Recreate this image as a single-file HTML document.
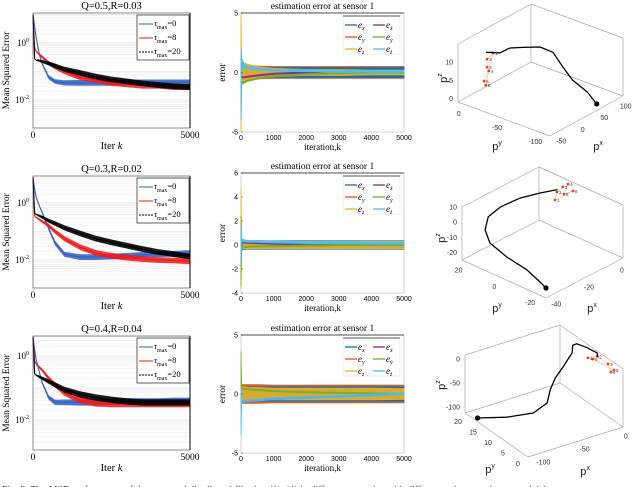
<!DOCTYPE html>
<html><head><meta charset="utf-8"><style>
html,body{margin:0;padding:0;background:#fff;}
svg{display:block;}
.serif{font-family:"Liberation Serif",serif;}
.sans{font-family:"Liberation Sans",sans-serif;}
</style></head><body>
<svg id="fig" width="640" height="487" viewBox="0 0 640 487" xmlns="http://www.w3.org/2000/svg">
<text x="2" y="493" class="serif" font-size="10" fill="#333">Fig. 3: The MSE performance of the proposed distributed filtering (1)–(4) in different scenarios with different noise covariances and delays</text>
</svg>
<script>
// ---------- MSE data (log10 of MSE) ----------
const kM=[0,50,100,200,300,500,700,1000,1500,2000,2500,3000,3500,4000,4500,5000];
const mseNoise=[0,0,0.02,0.04,0.05,0.07,0.08,0.09,0.1,0.1,0.1,0.1,0.1,0.1,0.1,0.1];
const r1Blue=[1.0,0.6,0.2,-0.4,-0.75,-1.2,-1.35,-1.4,-1.4,-1.4,-1.4,-1.38,-1.38,-1.38,-1.38,-1.38];
const r1Red=[1.0,-0.15,-0.3,-0.4,-0.5,-0.7,-0.85,-1.0,-1.2,-1.3,-1.4,-1.45,-1.5,-1.5,-1.55,-1.55];
const r1Black=[1.0,-0.55,-0.6,-0.62,-0.65,-0.72,-0.8,-0.92,-1.05,-1.18,-1.28,-1.35,-1.42,-1.48,-1.52,-1.55];
const r2Blue=[0.9,0.5,0.2,-0.1,-0.35,-0.9,-1.4,-1.8,-1.9,-1.9,-1.88,-1.85,-1.82,-1.8,-1.78,-1.75];
const r2Red=[0.9,-0.45,-0.5,-0.58,-0.65,-0.8,-1.0,-1.25,-1.55,-1.75,-1.85,-1.92,-1.97,-2.0,-2.02,-2.05];
const r2Black=[0.9,-0.35,-0.4,-0.45,-0.5,-0.62,-0.72,-0.87,-1.07,-1.25,-1.38,-1.5,-1.62,-1.72,-1.8,-1.88];
const r3Blue=[0.6,0.2,-0.1,-0.5,-0.85,-1.3,-1.45,-1.45,-1.45,-1.45,-1.43,-1.42,-1.42,-1.42,-1.4,-1.4];
const r3Red=[0.6,-0.15,-0.25,-0.35,-0.45,-0.7,-0.9,-1.15,-1.38,-1.48,-1.5,-1.5,-1.5,-1.5,-1.5,-1.5];
const r3Black=[0.6,-0.55,-0.6,-0.65,-0.7,-0.8,-0.9,-1.05,-1.2,-1.3,-1.37,-1.42,-1.45,-1.45,-1.45,-1.45];
const mseTitles=["Q=0.5,R=0.03","Q=0.3,R=0.02","Q=0.4,R=0.04"];
const legendDelays=["0","8","20"];
const mseXTicks=[0,5000];
const mseYTicks=[0,-2];

// ---------- estimation error data ----------
const kE=[0,20,100,200,500,1000,2000,3000,4000,5000];
const e1xC=[0,0.3,0.2,0.1,0.05,0,0,0,0,0], e1xS=[1,0.5,0.45,0.4,0.4,0.4,0.4,0.4,0.4,0.4];
const e1yC=[0,0,0,0,0,0,0,0,0,0], e1yS=[1,0.7,0.6,0.6,0.55,0.5,0.5,0.5,0.5,0.5];
const e1zC=[0,0,0,0,0,0,0,0,0,0], e1zS=[5,1.0,0.8,0.7,0.5,0.35,0.25,0.25,0.2,0.2];
const e1xdC=[0,-0.4,-0.4,-0.35,-0.25,-0.1,0,0,0,0], e1xdS=[0.05,0.05,0.05,0.05,0.05,0.05,0.05,0.05,0.05,0.05];
const e1ydC=[-2.5,-0.9,-0.8,-0.7,-0.5,-0.3,-0.15,-0.05,0,0], e1ydS=[1.5,0.1,0.08,0.06,0.06,0.05,0.05,0.05,0.05,0.05];
const e1zdC=[-1,0.8,0.5,0.4,0.3,0.2,0.15,0.1,0.1,0.1], e1zdS=[3,0.4,0.2,0.1,0.1,0.08,0.08,0.08,0.08,0.08];
const e2xC=[0,0,0,0,0,0,0,0,0,0], e2xS=[2,0.4,0.35,0.35,0.35,0.35,0.35,0.35,0.35,0.35];
const e2yC=[0,0,0,0,0,0,0,0,0,0], e2yS=[1,0.35,0.3,0.3,0.3,0.3,0.3,0.3,0.3,0.3];
const e2zC=[0.5,0.1,0.05,0,0,0,0,0,0,0], e2zS=[4.2,0.4,0.35,0.3,0.3,0.3,0.3,0.3,0.3,0.3];
const e2xdC=[0,0.2,0.2,0.18,0.15,0.1,0.05,0,0,0], e2xdS=[0.04,0.04,0.04,0.04,0.04,0.04,0.04,0.04,0.04,0.04];
const e2ydC=[-0.5,-0.2,-0.2,-0.15,-0.1,-0.1,-0.05,0,0,0], e2ydS=[2.9,0.05,0.05,0.05,0.05,0.05,0.05,0.05,0.05,0.05];
const e2zdC=[0,0.4,0.35,0.3,0.3,0.25,0.2,0.2,0.15,0.15], e2zdS=[1.5,0.1,0.08,0.08,0.08,0.08,0.08,0.08,0.08,0.08];
const e3xC=[0,0,0,0,0,0,0,0,0,0], e3xS=[1,0.6,0.6,0.6,0.6,0.6,0.6,0.6,0.6,0.6];
const e3yC=[0,0,0,0,0,0,0,0,0,0], e3yS=[1,0.8,0.8,0.8,0.8,0.75,0.75,0.75,0.75,0.75];
const e3zC=[0,0,0,0,0,0,0,0,0,0], e3zS=[1,0.6,0.6,0.55,0.55,0.5,0.5,0.5,0.5,0.45];
const e3xdC=[0,-0.6,-0.6,-0.55,-0.5,-0.45,-0.3,-0.2,-0.1,0], e3xdS=[0.04,0.04,0.04,0.04,0.04,0.04,0.04,0.04,0.04,0.04];
const e3ydC=[2,0.5,0.45,0.4,0.35,0.25,0.15,0.1,0.05,0], e3ydS=[1.6,0.06,0.05,0.05,0.05,0.05,0.05,0.05,0.05,0.05];
const e3zdC=[-1.5,-0.6,-0.6,-0.55,-0.5,-0.4,-0.3,-0.2,-0.1,0], e3zdS=[2,0.1,0.08,0.08,0.08,0.08,0.08,0.08,0.08,0.08];
const errXTicks=[0,1000,2000,3000,4000,5000];
const errYTicks1=[-5,0,5], errYTicks2=[-4,-2,0,2,4,6], errYTicks3=[-5,0,5];

// ---------- 3D trajectory data (px, py, pz) ----------
const t1Px=[-16,6,18,31,49,54,56,57,59,56], t1Py=[-2,-8,-14,-24,-36,-50,-62,-74,-92,-106], t1Pz=[10.8,9.7,10.7,10.8,10.7,10.0,6.7,4.0,2.0,0];
const s1Px=[11,-3,-3,1,-10,-6], s1Py=[4,4,4,4,4,4], s1Pz=[8.4,7.6,5.4,4.1,2.0,0.6];
const t2Px=[6,-2,-12,-21,-26,-30.5,-32.6,-32.6,-33,-38,-42], t2Py=[12.6,15,17.3,19.6,22,19.6,15,5.6,-6,-18,-25], t2Pz=[-0.5,0.5,1.4,-0.4,-5.5,-10.3,-15.3,-19.5,-21.6,-20.4,-18.4];
const s2Px=[4.5,5.7,9.3,12.5,10,15.5], s2Py=[12.6,12.6,12.6,12.6,12.6,12.6], s2Pz=[-6.5,-1.9,-0.5,-0.5,-5.7,-6.7];
const t3Px=[-110,-90,-73,-64,-45,-39,-29.5,-1,-1,-1,5,5,5], t3Py=[15.8,11.6,7.4,5.3,9.5,9.5,9.5,14.3,14.1,12.7,11,7.6,7.4], t3Pz=[-105,-96,-78,-53,-54,-33,-15,-22,-5,4,0,4,-4];
const s3Px=[5,5,5,5,5,5], s3Py=[10.7,7.6,4,3,2,9], s3Pz=[-20,-3,-3.5,-16,-7.5,-15];
const z1Ticks=[0,5,10], y1Ticks=[0,-50,-100], x1Ticks=[-50,0,50,100];
const z2Ticks=[-20,-10,0,10], y2Ticks=[20,0,-20], x2Ticks=[-40,-20,0];
const z3Ticks=[-100,-50,0], y3Ticks=[0,5,10,15,20], x3Ticks=[-100,-50,0];

const NS="http://www.w3.org/2000/svg";
const svg=document.getElementById('fig');
function mk(tag,attrs,parent,text){const e=document.createElementNS(NS,tag);for(const k in attrs)e.setAttribute(k,attrs[k]);if(text!==undefined)e.textContent=text;(parent||svg).appendChild(e);return e;}

// ================= MSE charts =================
function mseChart(o){
  const g=mk('g',{});
  
  
  const dec=(o.ym2-o.y0)/2;
  const sx=k=>o.x0+(k/5000)*(o.x1-o.x0);
  const sy=l=>o.y0-l*dec;
  const lTop=(o.y0-o.top)/dec, lBot=(o.y0-o.bot)/dec;
  for(let d=Math.floor(lBot);d<=Math.ceil(lTop);d++){
    for(let m=1;m<10;m++){
      const l=d+Math.log10(m); if(l<lBot||l>lTop)continue;
      const gl=mk('line',{x1:o.x0,x2:o.x1,y1:sy(l),y2:sy(l),stroke:m===1?'#d8d8d8':'#ececec','stroke-width':0.6},g);
      
      
    }
  }
  const cols=['#2d5fc4','#f01a1a','#000'];
  o.series.forEach((s,si)=>{
    let top='',bot=[],line='';
    kM.forEach((k,i)=>{
      const v=Math.min(s[i],lTop);
      top+=(i?'L':'M')+sx(k).toFixed(1)+','+sy(Math.min(v+mseNoise[i],lTop)).toFixed(1);
      bot.push('L'+sx(k).toFixed(1)+','+sy(v-mseNoise[i]).toFixed(1));
      line+=(i?'L':'M')+sx(k).toFixed(1)+','+sy(v).toFixed(1);
    });
    const band=mk('path',{d:top+bot.reverse().join('')+'Z',fill:cols[si],'fill-opacity':si===2?0.9:0.85},g);
    
    
    const ln=mk('path',{d:line,fill:'none',stroke:cols[si],'stroke-width':1.1},g);
    
    
  });
  const box=mk('rect',{x:o.x0,y:o.top,width:o.x1-o.x0,height:o.bot-o.top,fill:'none',stroke:'#444','stroke-width':0.6},g);
  
  
  mk('line',{x1:o.x1,x2:o.x1,y1:o.top,y2:o.bot,stroke:'#000','stroke-width':1},g);
  const t=mk('text',{x:(o.x0+o.x1)/2,y:o.top-4,'text-anchor':'middle','font-size':10.5,class:'serif'},g,mseTitles[o.id-1]);
  
  
  mseYTicks.forEach(l=>{
    const tx=mk('text',{x:o.x0-4,y:sy(l)+3,'text-anchor':'end','font-size':9,class:'serif'},g);
    
    
    mk('tspan',{},tx,'10');
    mk('tspan',{dy:-4,'font-size':6},tx,String(l));
  });
  mseXTicks.forEach(k=>{
    const tx=mk('text',{x:sx(k),y:o.bot+10,'text-anchor':'middle','font-size':9.5,class:'serif'},g,String(k));
    
    
  });
  const xl=mk('text',{x:(o.x0+o.x1)/2,y:o.bot+21,'text-anchor':'middle','font-size':10.5,class:'serif'},g);
  
  
  mk('tspan',{},xl,'Iter ');mk('tspan',{'font-style':'italic'},xl,'k');
  const yl=mk('text',{x:0,y:0,transform:`translate(9,${(o.top+o.bot)/2}) rotate(-90)`,'text-anchor':'middle','font-size':9.5,class:'serif'},g,'Mean Squared Error');
  
  
  const lg=mk('g',{},g);
  
  
  mk('rect',{x:o.x1-53,y:o.top+2,width:52,height:45,fill:'#fff',stroke:'#222','stroke-width':0.7},lg);
  legendDelays.forEach((d,i)=>{
    const yy=o.top+11+i*14;
    const e=mk('g',{},lg);
    
    
    mk('line',{x1:o.x1-51,x2:o.x1-37,y1:yy,y2:yy,stroke:cols[i],'stroke-width':1,'stroke-dasharray':i===2?'2,1':''},e);
    const tx=mk('text',{x:o.x1-36,y:yy+2,'font-size':8.5,class:'serif'},e);
    mk('tspan',{'font-style':'italic'},tx,'τ');
    mk('tspan',{dy:3,'font-size':6},tx,'max');
    mk('tspan',{dy:-3},tx,'='+d);
  });
}
mseChart({id:1,x0:33,x1:190,top:13,bot:128,y0:43,ym2:100,series:[r1Blue,r1Red,r1Black]});
mseChart({id:2,x0:33,x1:190,top:176,bot:288,y0:203,ym2:260,series:[r2Blue,r2Red,r2Black]});
mseChart({id:3,x0:33,x1:190,top:336,bot:450,y0:356,ym2:420,series:[r3Blue,r3Red,r3Black]});

// ================= error charts =================
const eCols=['#0072BD','#D95319','#EDB120','#7E2F8E','#77AC30','#4DBEEE'];
const eNames=['x','y','z','xd','yd','zd'];
function errChart(o){
  const g=mk('g',{});
  
  
  const sx=k=>o.x0+(k/5000)*(o.x1-o.x0);
  const sy=v=>o.bot-(v-o.ymin)/(o.ymax-o.ymin)*(o.bot-o.top);
  const bx=mk('rect',{x:o.x0,y:o.top,width:o.x1-o.x0,height:o.bot-o.top,fill:'none',stroke:'#bbb','stroke-width':0.6},g);
  
  
  const order=[1,0,2,3,4,5];
  order.forEach(si=>{
    const C=o.c[si],S=o.s[si];
    let top='',bot=[];
    kE.forEach((k,i)=>{
      const hi=Math.min(C[i]+S[i],o.ymax), lo=Math.max(C[i]-S[i],o.ymin);
      top+=(i?'L':'M')+sx(k).toFixed(1)+','+sy(hi).toFixed(1);
      bot.push('L'+sx(k).toFixed(1)+','+sy(lo).toFixed(1));
    });
    const p=mk('path',{d:top+bot.reverse().join('')+'Z',fill:eCols[si],stroke:eCols[si],'stroke-width':0.8,'fill-opacity':0.9},g);
    
    
  });
  mk('line',{x1:o.x0,x2:o.x1,y1:o.top,y2:o.top,stroke:'#888','stroke-width':1.5},g);
  o.yt.forEach(v=>{
    mk('line',{x1:o.x0,x2:o.x0+2,y1:sy(v),y2:sy(v),stroke:'#444','stroke-width':0.5},g);
    const tx=mk('text',{x:o.x0-3,y:sy(v)+2.5,'text-anchor':'end','font-size':7,class:'sans'},g,String(v));
    
    
  });
  errXTicks.forEach(k=>{
    const tx=mk('text',{x:sx(k),y:o.bot+8,'text-anchor':'middle','font-size':7,class:'sans'},g,String(k));
    
    
  });
  const t=mk('text',{x:(o.x0+o.x1)/2,y:o.top-4,'text-anchor':'middle','font-size':9.5,class:'serif'},g,'estimation error at sensor 1');
  
  
  const xl=mk('text',{x:(o.x0+o.x1)/2,y:o.bot+18,'text-anchor':'middle','font-size':9,class:'serif'},g,'iteration,k');
  
  
  const yl=mk('text',{x:0,y:0,transform:`translate(225,${(o.top+o.bot)/2}) rotate(-90)`,'text-anchor':'middle','font-size':9.5,class:'serif'},g,'error');
  
  
  const lg=mk('g',{},g);
  
  
  mk('rect',{x:343,y:o.top+3,width:57,height:38,fill:'#fff',stroke:'#ddd','stroke-width':0.5},lg);
  mk('line',{x1:343,x2:400,y1:o.top+3,y2:o.top+3,stroke:'#777','stroke-width':1.2},lg);
  const labs=[['x',''],['y',''],['z',''],['x','˙'],['y','˙'],['z','˙']];
  [0,1,2,3,4,5].forEach(si=>{
    const col=si<3?0:1,row=si%3;
    const xx=345+col*28,yy=o.top+12+row*12;
    const e=mk('g',{},lg);
    
    
    mk('line',{x1:xx,x2:xx+12,y1:yy,y2:yy,stroke:eCols[si],'stroke-width':1.3},e);
    const tx=mk('text',{x:xx+13,y:yy+3,'font-size':9,'font-style':'italic',class:'serif'},e);
    mk('tspan',{},tx,'e');
    mk('tspan',{dy:2,'font-size':6},tx,labs[si][0]+(labs[si][1]?'\u0307':''));
  });
}
errChart({id:1,x0:241,x1:404,top:13,bot:132,ymin:-5,ymax:5,yt:errYTicks1,
  c:[e1xC,e1yC,e1zC,e1xdC,e1ydC,e1zdC],s:[e1xS,e1yS,e1zS,e1xdS,e1ydS,e1zdS]});
errChart({id:2,x0:241,x1:404,top:173,bot:293,ymin:-4,ymax:6,yt:errYTicks2,
  c:[e2xC,e2yC,e2zC,e2xdC,e2ydC,e2zdC],s:[e2xS,e2yS,e2zS,e2xdS,e2ydS,e2zdS]});
errChart({id:3,x0:241,x1:404,top:335,bot:453,ymin:-5,ymax:5,yt:errYTicks3,
  c:[e3xC,e3yC,e3zC,e3xdC,e3ydC,e3zdC],s:[e3xS,e3yS,e3zS,e3xdS,e3ydS,e3zdS]});

// ================= 3D charts =================
function chart3d(o){
  const g=mk('g',{});
  
  
  const P=(x,y,z)=>{
    const nx=(x-o.xr[0])/(o.xr[1]-o.xr[0]),ny=(y-o.yr[0])/(o.yr[1]-o.yr[0]),nz=(z-o.zr[0])/(o.zr[1]-o.zr[0]);
    return [o.f[0]+nx*o.ex[0]+ny*o.ey[0]+nz*o.ez[0], o.f[1]+nx*o.ex[1]+ny*o.ey[1]+nz*o.ez[1]];
  };
  const [x0,x1]=o.xr,[y0,y1]=o.yr,[z0,z1]=o.zr;
  const edges=[
    [[x0,y0,z0],[x1,y0,z0]],[[x0,y0,z0],[x0,y1,z0]],[[x1,y0,z0],[x1,y1,z0]],[[x0,y1,z0],[x1,y1,z0]],
    [[x1,y1,z0],[x1,y1,z1]],[[x0,y1,z0],[x0,y1,z1]],[[x1,y0,z0],[x1,y0,z1]],
    [[x1,y1,z1],[x0,y1,z1]],[[x1,y1,z1],[x1,y0,z1]]];
  edges.forEach(e=>{
    const a=P(...e[0]),b=P(...e[1]);
    const l=mk('line',{x1:a[0],y1:a[1],x2:b[0],y2:b[1],stroke:'#aaa','stroke-width':0.7},g);
    
    
  });
  o.zt.forEach(v=>{const p=P(x0,y1,v);
    const t=mk('text',{x:p[0]-5,y:p[1]+2.5,'text-anchor':'end','font-size':7,fill:'#333',class:'sans'},g,String(v));
    
    });
  o.yt.forEach(v=>{const p=P(x0,v,z0);
    const t=mk('text',{x:p[0]-7,y:p[1]+11,'text-anchor':'middle','font-size':7,fill:'#333',class:'sans'},g,String(v));
    
    });
  o.xt.forEach(v=>{const p=P(v,y0,z0);
    const t=mk('text',{x:p[0]+7,y:p[1]+10,'text-anchor':'middle','font-size':7,fill:'#333',class:'sans'},g,String(v));
    
    });
  [['y',o.yl],['x',o.xl]].forEach(([n,pos])=>{
    const t=mk('text',{x:pos[0],y:pos[1],'text-anchor':'middle','font-size':11,fill:'#222',class:'sans'},g);
    
    
    mk('tspan',{},t,'p');mk('tspan',{dy:-5,'font-size':7},t,n);
  });
  const zl=mk('text',{x:0,y:0,transform:`translate(${o.zl[0]},${o.zl[1]}) rotate(-90)`,'text-anchor':'middle','font-size':11,fill:'#222',class:'sans'},g);
  
  
  mk('tspan',{},zl,'p');mk('tspan',{dy:-5,'font-size':7},zl,'z');
  const sp=o.sx.map((v,i)=>P(v,o.sy[i],o.sz[i]));
  for(let i=0;i<sp.length;i++){
    const j=(i+1)%sp.length;
    mk('line',{x1:sp[i][0],y1:sp[i][1],x2:sp[j][0],y2:sp[j][1],stroke:'#f2b8a0','stroke-width':0.6},g);
  }
  sp.forEach((p,i)=>{
    const c=mk('circle',{cx:p[0],cy:p[1],r:1.4,fill:'#e8431a'},g);
    
    
    mk('text',{x:p[0]+2,y:p[1]+2,'font-size':4.5,fill:'#333',class:'sans'},g,String(i+1));
  });
  const d=o.tx.map((v,i)=>{const p=P(v,o.ty[i],o.tz[i]);return (i?'L':'M')+p[0].toFixed(1)+','+p[1].toFixed(1);}).join('');
  const tr=mk('path',{d:d,fill:'none',stroke:'#000','stroke-width':1.3,'stroke-linejoin':'round'},g);
  
  
  const n=o.o0?0:o.tx.length-1;
  const pe=P(o.tx[n],o.ty[n],o.tz[n]);
  const dot=mk('circle',{cx:pe[0],cy:pe[1],r:2.6,fill:'#000'},g);
  
  
}
chart3d({id:1,f:[550,136],ex:[73,-40],ey:[-92,-34],ez:[0,-58],xr:[-60,110],yr:[-110,10],zr:[-1,15],
  zt:z1Ticks,yt:y1Ticks,xt:x1Ticks,yl:[497,150],xl:[598,150],zl:[447,78],
  tx:t1Px,ty:t1Py,tz:t1Pz,sx:s1Px,sy:s1Py,sz:s1Pz,o0:false});
chart3d({id:2,f:[546,298],ex:[77,-40],ey:[-84,-38],ez:[0,-53],xr:[-42,5],yr:[-25,22],zr:[-25,10],
  zt:z2Ticks,yt:y2Ticks,xt:x2Ticks,yl:[497,312],xl:[592,312],zl:[445,238],
  tx:t2Px,ty:t2Py,tz:t2Pz,sx:s2Px,sy:s2Py,sz:s2Pz,o0:false});
chart3d({id:3,f:[528,457],ex:[95,-30],ey:[-63,-44],ez:[0,-58],xr:[-110,5],yr:[-1,20],zr:[-113,8],
  zt:z3Ticks,yt:y3Ticks,xt:x3Ticks,yl:[490,473],xl:[585,475],zl:[445,385],
  tx:t3Px,ty:t3Py,tz:t3Pz,sx:s3Px,sy:s3Py,sz:s3Pz,o0:true});
</script>
</body></html>
